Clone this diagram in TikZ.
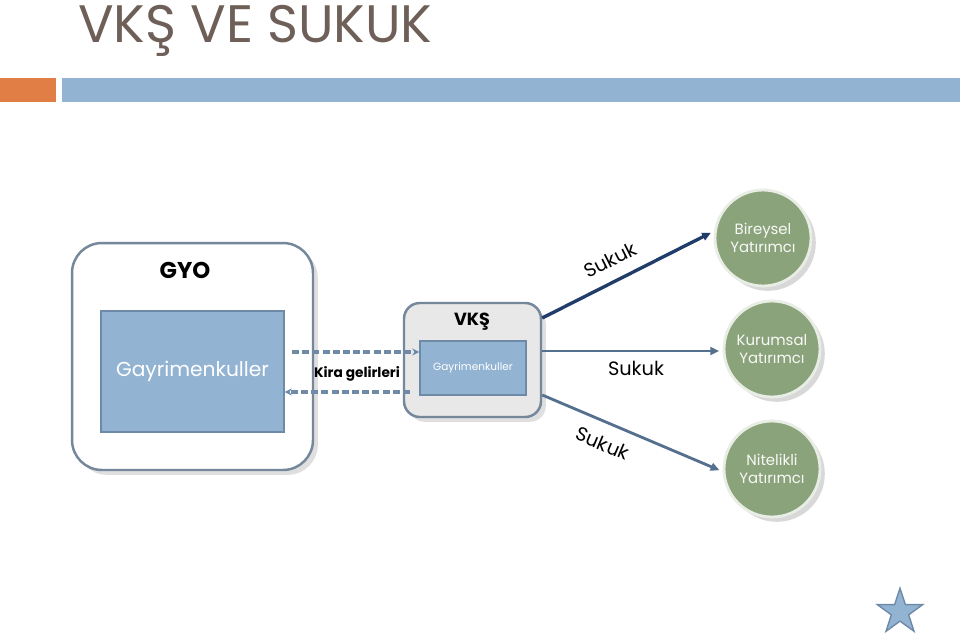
\documentclass[tikz,border=0pt]{standalone}
\usepackage{fontspec}
\setmainfont{Poppins}
\usepackage{tikz}
\usetikzlibrary{positioning, arrows.meta, shapes.geometric, calc, shadows}

\definecolor{baslik}{HTML}{6E6058}
\definecolor{turuncu}{HTML}{E07E45}
\definecolor{acikmavi}{HTML}{93B3D3}
\definecolor{kenar}{HTML}{6F8AA7}
\definecolor{lacivert}{HTML}{1F3C6B}
\definecolor{okmavi}{HTML}{55708F}
\definecolor{yesil}{HTML}{8AA37B}

\begin{document}
\begin{tikzpicture}[
  x=0.02cm, y=-0.02cm,
  kutu/.style={draw=kenar!70!gray, line width=1.4pt, rounded corners=#1, drop shadow={opacity=0.25}},
  ickutu/.style={draw=kenar, line width=0.8pt, fill=acikmavi, text=white, align=center, inner sep=0pt},
  yatirimci/.style={circle, draw=white!80!yesil, line width=1.6pt, fill=yesil, minimum size=1.92cm,
    text=white!94!yesil, align=center, font=\fontsize{8.5}{10.5}\selectfont, drop shadow={opacity=0.3}},
  sukuk/.style={font=\fontsize{11}{13}\selectfont, text=black, inner sep=1pt},
  arr/.style={-{Triangle[length=5pt, width=4.5pt]}, line width=1.6pt, shorten >=2pt},
  darr/.style={-{Stealth[length=4pt, width=4pt]}, draw=kenar, line width=1.9pt, dash pattern=on 4pt off 1.8pt}
]
  % Arka plan ve baslik
  \fill[white] (0,0) rectangle (960,636);
  \node[anchor=base west, inner sep=0pt, text=baslik, font=\fontsize{30}{34}\selectfont] (baslik) at (78,42) {VKŞ VE SUKUK};
  \fill[turuncu] (0,78) rectangle (56,102);
  \fill[acikmavi] (62,78) rectangle (960,102);

  % GYO
  \node[kutu=17pt, fill=white, minimum width=4.82cm, minimum height=4.54cm] (gyo) at (192.5,356.5) {};
  \node[font=\bfseries\fontsize{13}{15}\selectfont] (gyoad) at (185,270) {GYO};
  \node[ickutu, minimum width=3.66cm, minimum height=2.42cm, font=\fontsize{11.5}{14}\selectfont] (gin) at (192.5,371.5) {Gayrimenkuller};

  % VKS
  \node[kutu=9pt, fill=black!9, minimum width=2.74cm, minimum height=2.28cm] (vks) at (472.5,360) {};
  \node[font=\bfseries\fontsize{10}{12}\selectfont] (vksad) at (472,322) {VKŞ};
  \node[ickutu, minimum width=2.12cm, minimum height=1.08cm, font=\fontsize{6}{8}\selectfont] (vin) at (473,368) {Gayrimenkuller};

  % Kira gelirleri
  \coordinate (k1) at (292,352);
  \coordinate (k2) at (410,392);
  \draw[darr] (k1) -- (vin.west |- k1);
  \draw[darr] (k2) -- (gin.east |- k2);
  \node[font=\bfseries\fontsize{7.8}{10}\selectfont] (kira) at (357,374) {Kira gelirleri};

  % Yatirimcilar
  \node[yatirimci] (bir) at (763,238) {Bireysel\\Yatırımcı};
  \node[yatirimci] (kur) at (772,349) {Kurumsal\\Yatırımcı};
  \node[yatirimci] (nit) at (772,469) {Nitelikli\\Yatırımcı};

  % Sukuk oklari
  \draw[arr, lacivert, line width=1.9pt] ($(vks.east)+(0,-42)$) -- node[sukuk, sloped, above=6pt, pos=0.45] {Sukuk} (bir.172);
  \draw[arr, okmavi] ($(vks.east)+(0,-9)$) -- node[sukuk, below=4pt, pos=0.52] {Sukuk} (kur.west |- 0,351);
  \draw[arr, okmavi] ($(vks.east)+(0,35)$) -- node[sukuk, sloped, below=6pt, pos=0.38] {Sukuk} (nit.183);

  % Yildiz
  \node[star, star points=5, star point ratio=2.6, minimum size=0.95cm, inner sep=0pt, fill=acikmavi, draw=kenar, line width=0.8pt] (yildiz) at (900,612) {};
\end{tikzpicture}
\end{document}
